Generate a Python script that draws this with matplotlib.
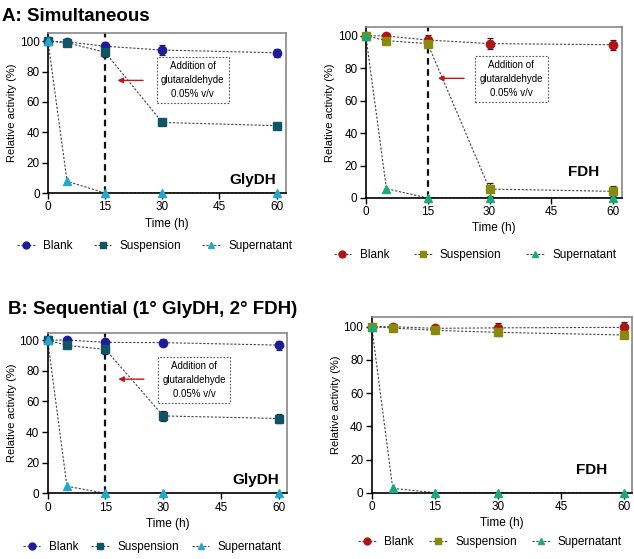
import matplotlib.pyplot as plt
import numpy as np

time_h = [0, 5, 15, 30, 60]

# A: simultaneous immobilization
a_gly_blank = [100, 99.6, 96.7, 94.2, 92.4]
a_gly_blank_err = [0, 1.0, 3.0, 3.0, 2.5]
a_gly_susp = [100, 99.0, 92.7, 46.5, 44.4]
a_gly_susp_err = [0, 1.0, 3.0, 2.0, 1.5]
a_gly_super = [100, 7.7, 0, 0, 0]

a_fdh_blank = [100, 99.8, 97.3, 95.1, 94.4]
a_fdh_blank_err = [0, 1.0, 3.0, 3.5, 3.0]
a_fdh_susp = [100, 96.9, 95.1, 5.5, 4.1]
a_fdh_susp_err = [0, 1.5, 2.0, 4.0, 3.0]
a_fdh_super = [100, 5.7, 0, 0, 0]

# B: sequential immobilization
b_gly_blank = [100, 100, 98.5, 98.3, 96.7]
b_gly_blank_err = [0, 1.0, 2.0, 2.5, 3.0]
b_gly_susp = [100, 96.5, 93.9, 50.5, 48.8]
b_gly_susp_err = [0, 2.0, 3.0, 3.0, 3.0]
b_gly_super = [100, 4.6, 0, 0, 0]

b_fdh_blank = [100, 100, 99.0, 99.3, 99.6]
b_fdh_blank_err = [0, 1.0, 1.5, 3.0, 3.0]
b_fdh_susp = [100, 99.2, 97.8, 96.6, 95.0]
b_fdh_susp_err = [0, 1.0, 1.5, 2.0, 2.0]
b_fdh_super = [100, 2.6, 0, 0, 0]

series_labels = ["Blank", "Suspension", "Supernatant"]
gly_colors = ["#1c1c9c", "#0f5566", "#22a8cc"]
fdh_colors = ["#b01515", "#8a8a0a", "#1aaa7a"]

plt.rcParams["font.family"] = ["Liberation Sans", "DejaVu Sans"]

fig = plt.figure(figsize=(6.34, 5.59), dpi=100)


def make_panel(rect, xmax, ymax, blank, blank_err, susp, susp_err, sup, colors,
               enzyme, enzyme_xy, note, leg_xy, colspace):
    ax = fig.add_axes(rect)
    markers = ["o", "s", "^"]
    data = [(blank, blank_err), (susp, susp_err), (sup, None)]
    handles = []
    for (vals, err), c, m, lab in zip(data, colors, markers, series_labels):
        ax.plot(time_h, vals, linestyle=(0, (2, 1.5)), color="#444444",
                linewidth=0.8, zorder=2)
        if err is not None:
            ax.errorbar(time_h, vals, yerr=err, fmt="none", ecolor="#222222",
                        elinewidth=0.9, capsize=2.5, capthick=0.9, zorder=3,
                        clip_on=False)
        ax.plot(time_h, vals, linestyle="none", marker=m, markersize=6 if m != "^" else 5.5,
                color=c, markeredgecolor=c, zorder=4, clip_on=False)
        h, = ax.plot([], [], linestyle=(0, (2, 1.5)), color="#444444", linewidth=0.8,
                     marker=m, markersize=5, markerfacecolor=c, markeredgecolor=c)
        handles.append(h)

    if note is not None:
        ax.axvline(15, color="#111111", linestyle=(0, (3, 2)), linewidth=1.6, zorder=1)
        bx, by, ax0, ax1, ay = note
        ax.text(bx, by, "Addition of\nglutaraldehyde\n0.05% v/v", ha="center", va="center",
                fontsize=7, linespacing=1.5,
                bbox=dict(boxstyle="square,pad=0.45", facecolor="white",
                          edgecolor="#555555", linestyle=(0, (1.5, 1.5)), linewidth=0.8))
        ax.annotate("", xy=(ax1, ay), xytext=(ax0, ay),
                    arrowprops=dict(arrowstyle="-|>", color="#c01818", lw=1.0,
                                    mutation_scale=8))

    ax.text(enzyme_xy[0], enzyme_xy[1], enzyme, ha="right", va="center",
            fontsize=11, fontweight="bold")

    ax.set_xlim(0, xmax)
    ax.set_ylim(0, ymax)
    ax.set_xticks([0, 15, 30, 45, 60])
    ax.set_yticks([0, 20, 40, 60, 80, 100])
    ax.tick_params(labelsize=8.5, length=4, width=1, pad=2)
    ax.set_xlabel("Time (h)", fontsize=8.5, labelpad=3)
    ax.set_ylabel("Relative activity (%)", fontsize=8, labelpad=2)
    for side in ["top", "right"]:
        ax.spines[side].set_color("#888888")
        ax.spines[side].set_linewidth(1.2)
    for side in ["left", "bottom"]:
        ax.spines[side].set_linewidth(1.2)

    ax.legend(handles, series_labels, loc="center", bbox_to_anchor=leg_xy,
              bbox_transform=fig.transFigure, ncol=3, frameon=False, fontsize=8.5,
              handlelength=1.5, columnspacing=colspace, handletextpad=0.7,
              borderpad=0.2, borderaxespad=0)
    return ax


make_panel([0.0757, 0.6547, 0.375, 0.287], 62.4, 105.7,
           a_gly_blank, a_gly_blank_err, a_gly_susp, a_gly_susp_err, a_gly_super,
           gly_colors, "GlyDH", (60, 8.6), (38, 74.4, 25.7, 17.5, 74.2),
           (0.244, 0.56), 1.8)
make_panel([0.577, 0.6458, 0.404, 0.3064], 62.1, 105.5,
           a_fdh_blank, a_fdh_blank_err, a_fdh_susp, a_fdh_susp_err, a_fdh_super,
           fdh_colors, "FDH", (56.6, 16.2), (35.3, 73.3, 24.5, 16.8, 73.7),
           (0.749, 0.544), 2.1)
make_panel([0.0752, 0.1175, 0.3774, 0.2868], 62.1, 104.6,
           b_gly_blank, b_gly_blank_err, b_gly_susp, b_gly_susp_err, b_gly_super,
           gly_colors, "GlyDH", (60, 8.7), (38, 74, 25.7, 17.6, 74.5),
           (0.24, 0.0215), 1.1)
make_panel([0.5863, 0.1186, 0.410, 0.3148], 61.8, 106,
           b_fdh_blank, b_fdh_blank_err, b_fdh_susp, b_fdh_susp_err, b_fdh_super,
           fdh_colors, "FDH", (56, 13.7), None,
           (0.773, 0.030), 1.3)

fig.text(0.003, 0.986, "A: Simultaneous", fontsize=13.5, fontweight="bold",
         ha="left", va="top")
fig.text(0.012, 0.447, "B: Sequential (1\u00b0 GlyDH, 2\u00b0 FDH)", fontsize=13.5,
         fontweight="bold", ha="left", va="center")

fig.savefig("out.png", dpi=100)
